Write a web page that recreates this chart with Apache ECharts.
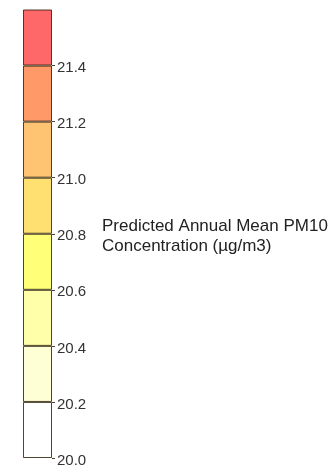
<!DOCTYPE html>
<html>
<head>
<meta charset="utf-8">
<script src="https://cdn.jsdelivr.net/npm/echarts@6/dist/echarts.min.js"></script>
<style>
html,body{margin:0;padding:0;background:#fff;}
#chart{width:336px;height:468px;}
</style>
</head>
<body>
<div id="chart"></div>
<script>
// class breaks (PM10, µg/m3)
var breaks = [20.0, 20.2, 20.4, 20.6, 20.8, 21.0, 21.2, 21.4, 21.6];
// colours of each class, bottom to top
var classColors = ['#ffffff', '#ffffd6', '#ffffaa', '#ffff78', '#ffe070', '#ffc472', '#ff9a68', '#ff6868'];
var legendTitle = 'Predicted Annual Mean PM10\nConcentration (\u00b5g/m3)';

var FONT = "'Liberation Sans', Arial, sans-serif";
var LINE = 'rgba(40,28,5,0.82)';
var chart = echarts.init(document.getElementById('chart'), null, {renderer: 'canvas'});

var series = [{
  type: 'bar', stack: 'legend', barWidth: '100%', silent: true,
  itemStyle: {color: 'rgba(0,0,0,0)'},
  data: [breaks[0]]
}];
for (var i = 0; i < classColors.length; i++) {
  series.push({
    type: 'bar', stack: 'legend', barWidth: '100%', silent: true,
    itemStyle: {color: classColors[i], borderColor: LINE, borderWidth: 1},
    data: [+(breaks[i + 1] - breaks[i]).toFixed(4)]
  });
}

chart.setOption({
  animation: false,
  grid: {left: 23, right: 284, top: 9.5, bottom: 8},
  xAxis: {type: 'category', data: [''], show: false},
  yAxis: {
    type: 'value', position: 'right',
    min: breaks[0], max: breaks[breaks.length - 1], interval: 0.2,
    splitLine: {show: false},
    axisLine: {show: false},
    axisTick: {show: true, length: 3, inside: false, lineStyle: {color: LINE, width: 1}},
    axisLabel: {
      show: true, margin: 5, showMaxLabel: false,
      color: '#333', fontSize: 15, fontFamily: FONT,
      verticalAlign: 'top', lineHeight: 5,
      formatter: function (v) { return v.toFixed(1); }
    }
  },
  graphic: [{
    type: 'text', left: 102, top: 216,
    style: {text: legendTitle, fill: '#222', font: '17px ' + FONT, lineHeight: 20}
  }],
  series: series
});
</script>
</body>
</html>
